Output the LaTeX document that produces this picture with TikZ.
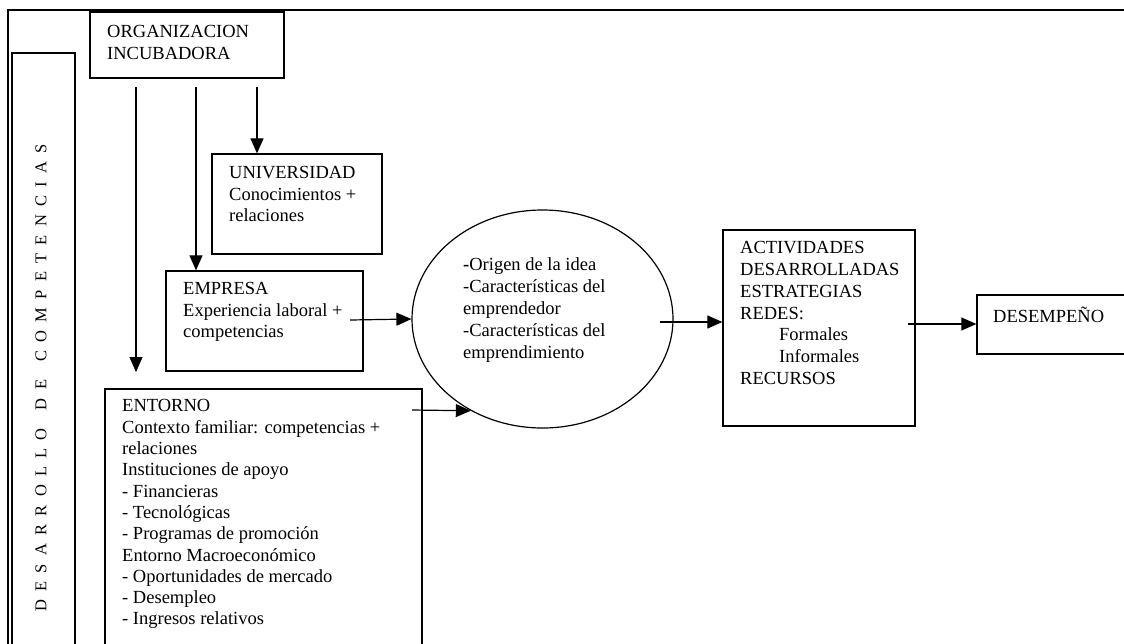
\documentclass[tikz,border=0pt]{standalone}
\usepackage{fontspec}
\setmainfont{Liberation Serif}
\usetikzlibrary{arrows.meta,shapes.geometric}

\tikzset{
  box/.style={draw, line width=1.3pt, inner sep=0pt},
  txt/.style={anchor=north west, align=left, inner sep=0pt,
    font=\fontsize{18.5}{21.3}\selectfont},
  arr/.style={line width=1.2pt, -{Triangle[length=15pt,width=13pt]}}
}

\begin{document}
\begin{tikzpicture}[x=1pt, y=-1pt]
		\useasboundingbox (0,0) rectangle (1124,643);
		\clip (0,0) rectangle (1124,643);

		% frame and side label
		\draw [line width=2.2pt] (8,700) -- (8,10) -- (1200,10);
		\node (comp) [box, minimum width=63pt, minimum height=647pt] at (43.5,376.5) {};
		\node (complbl) [rotate=90, inner sep=0pt, font=\fontsize{16.5}{20}\selectfont] at (41,378)
			{\addfontfeature{LetterSpace=50}DESARROLLO\hspace{1.1em}DE\hspace{1.1em}COMPETENCIAS};

		% boxes
		\node (org) [box, minimum width=194pt, minimum height=66pt] at (187,45) {};
		\node (univ) [box, minimum width=170pt, minimum height=100pt] at (297,204) {};
		\node (emp) [box, minimum width=197pt, minimum height=100pt] at (264.5,321) {};
		\node (ent) [box, minimum width=317pt, minimum height=311pt] at (263.5,544.5) {};
		\node (idea) [ellipse, draw, line width=1.2pt, minimum width=261pt, minimum height=218pt] at (542.5,319) {};
		\node (act) [box, minimum width=192pt, minimum height=196pt] at (819,328) {};
		\node (des) [box, minimum width=200pt, minimum height=59pt] at (1077,324.5) {};

		% texts
		\node (orgtxt) [txt] at (107,25.5) {ORGANIZACION\\INCUBADORA};
		\node (univtxt) [txt] at (229,166.5) {UNIVERSIDAD\\Conocimientos +\\relaciones};
		\node (emptxt) [txt] at (183,282.5) {EMPRESA\\Experiencia laboral +\\competencias};
		\node (enttxt) [txt] at (122,399.5) {ENTORNO\\Contexto familiar: competencias +\\relaciones\\Instituciones de apoyo\\- Financieras\\- Tecnológicas\\- Programas de promoción\\Entorno Macroeconómico\\- Oportunidades de mercado\\- Desempleo\\- Ingresos relativos};
		\node (ideatxt) [txt, font=\fontsize{18.5}{22}\selectfont] at (463,257.5) {{\bfseries -}Origen de la idea\\-Características del\\emprendedor\\-Características del\\emprendimiento};
		\node (acttxt) [txt, font=\fontsize{18.5}{21.7}\selectfont] at (740,241.5) {ACTIVIDADES\\DESARROLLADAS\\ESTRATEGIAS\\REDES:\\\hspace*{39pt}Formales\\\hspace*{39pt}Informales\\RECURSOS};
		\node (destxt) [txt, anchor=base west] at (993,322) {DESEMPEÑO};

		% arrow ends
		\coordinate (o1) at (136,87);
		\coordinate (o2) at (196,87);
		\coordinate (o3) at (257,87);
		\coordinate (fall) at (136,372);
		\coordinate (empout) at (350,320);
		\coordinate (entout) at (412,410);
		\coordinate (ideaout) at (660,322);
		\coordinate (actout) at (908,324);

		% arrows
		\draw [arr] (o3) -- (o3 |- univ.north);
		\draw [arr] (o2) -- (o2 |- emp.north);
		\draw [arr] (o1) -- (fall);
		\draw [arr] (empout) -- (idea.west);
		\draw [arr] (entout) -- (idea.232);
		\draw [arr] (ideaout) -- (act.west |- ideaout);
		\draw [arr] (actout) -- (des.west |- actout);
	\end{tikzpicture}
\end{document}
